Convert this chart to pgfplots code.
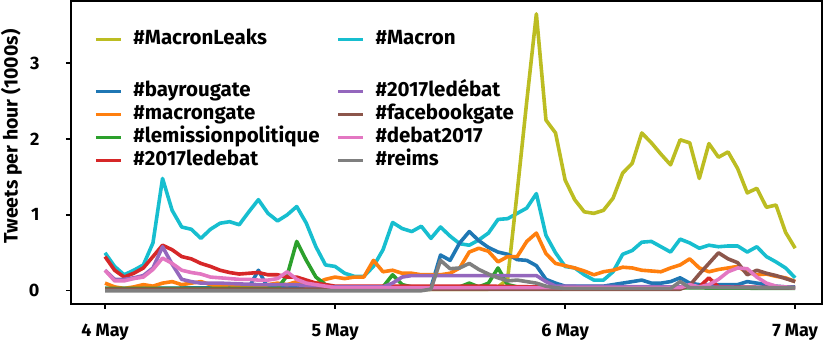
\documentclass[border=0pt]{standalone}
\usepackage{pgfplots}
\pgfplotsset{compat=1.18}
\usepackage{fontspec}
\setmainfont{Fira Sans}
\definecolor{tblue}{HTML}{1F77B4}
\definecolor{torange}{HTML}{FF7F0E}
\definecolor{tgreen}{HTML}{2CA02C}
\definecolor{tred}{HTML}{D62728}
\definecolor{tpurple}{HTML}{9467BD}
\definecolor{tbrown}{HTML}{8C564B}
\definecolor{tpink}{HTML}{E377C2}
\definecolor{tgray}{HTML}{7F7F7F}
\definecolor{tolive}{HTML}{BCBD22}
\definecolor{tcyan}{HTML}{17BECF}
\begin{document}
\begin{tikzpicture}
\begin{axis}[
  scale only axis, width=751pt, height=303pt,
  xmin=-3.55, xmax=74.8, ymin=-0.175, ymax=3.82,
  axis line style={line width=2pt},
  xtick={0,24,48,72}, xticklabels={4 May,5 May,6 May,7 May},
  ytick={0,1,2,3},
  tick align=outside, tick pos=left,
  major tick length=5pt, every tick/.style={black, line width=1.5pt},
  ticklabel style={font=\fontsize{18}{20}\selectfont\bfseries},
  xticklabel style={yshift=-11pt},
  yticklabel style={xshift=-23pt},
  /pgf/number format/assume math mode=true,
  ylabel={Tweets per hour (1000s)},
  ylabel style={font=\fontsize{19.5}{21}\selectfont\bfseries, yshift=0pt, xshift=16pt},
  legend columns=2,
  legend cell align=left,
  legend style={draw=none, fill=none, at={(0.027,0.918)}, anchor=north west,
    font=\fontsize{20.5}{22}\selectfont\bfseries, row sep=1pt,
    nodes={inner sep=2pt, text height=14pt, text depth=4pt},
    /tikz/every odd column/.append style={column sep=9pt},
    /tikz/every even column/.append style={column sep=15pt}},
  legend image code/.code={\draw[#1, line width=3pt] (0pt,0pt) -- (25pt,0pt);},
  every axis plot/.append style={line width=3.6pt, line join=round},
]
\addlegendimage{tolive}\addlegendentry{\#MacronLeaks}
\addlegendimage{tcyan}\addlegendentry{\#Macron}
\addlegendimage{empty legend}\addlegendentry[text height=12pt, text depth=12pt]{}
\addlegendimage{empty legend}\addlegendentry[text height=12pt, text depth=12pt]{}
\addlegendimage{tblue}\addlegendentry{\#bayrougate}
\addlegendimage{tpurple}\addlegendentry{\#2017ledébat}
\addlegendimage{torange}\addlegendentry{\#macrongate}
\addlegendimage{tbrown}\addlegendentry{\#facebookgate}
\addlegendimage{tgreen}\addlegendentry{\#lemissionpolitique}
\addlegendimage{tpink}\addlegendentry{\#debat2017}
\addlegendimage{tred}\addlegendentry{\#2017ledebat}
\addlegendimage{tgray}\addlegendentry{\#reims}

% #Macron
\addplot[tcyan, forget plot] coordinates {
(0,0.50) (1,0.32) (2,0.21) (3,0.27) (4,0.34) (5,0.63) (6,1.48) (7,1.06) (8,0.84)
(9,0.81) (10,0.69) (11,0.81) (12,0.89) (13,0.91) (14,0.87) (15,1.04) (16,1.20)
(17,1.02) (18,0.92) (19,1.00) (20,1.11) (21,0.89) (22,0.58) (23,0.34) (24,0.32)
(25,0.23) (26,0.19) (27,0.19) (28,0.32) (29,0.54) (30,0.90) (31,0.82) (32,0.78)
(33,0.85) (34,0.69) (35,0.84) (36,0.72) (37,0.62) (38,0.60) (39,0.67) (40,0.76)
(41,0.94) (42,0.95) (43,1.02) (44,1.09) (45,1.28) (46,0.73) (47,0.50) (48,0.32)
(49,0.30) (50,0.21) (51,0.14) (52,0.14) (53,0.25) (54,0.48) (55,0.53) (56,0.64)
(57,0.65) (58,0.58) (59,0.51) (60,0.68) (61,0.63) (62,0.56) (63,0.60) (64,0.58)
(65,0.59) (66,0.59) (67,0.51) (68,0.58) (69,0.45) (70,0.38) (71,0.30) (72,0.17)};
% #MacronLeaks
\addplot[tolive, forget plot] coordinates {
(0,0.02) (40,0.02) (41,0.05) (42,0.15) (43,1.30) (44,2.50) (45,3.65) (46,2.25)
(47,2.08) (48,1.46) (49,1.20) (50,1.04) (51,1.02) (52,1.06) (53,1.22) (54,1.55)
(55,1.68) (56,2.08) (57,1.95) (58,1.80) (59,1.66) (60,1.99) (61,1.95) (62,1.48)
(63,1.94) (64,1.76) (65,1.83) (66,1.61) (67,1.29) (68,1.35) (69,1.10) (70,1.13)
(71,0.77) (72,0.56)};
% #bayrougate
\addplot[tblue, forget plot] coordinates {
(0,0.03) (15,0.04) (16,0.27) (17,0.04) (33,0.03) (34,0.04) (35,0.47) (36,0.40)
(37,0.63) (38,0.78) (39,0.66) (40,0.57) (41,0.51) (42,0.48) (43,0.41) (44,0.40)
(45,0.33) (46,0.15) (47,0.10) (48,0.06) (52,0.06) (53,0.08) (54,0.10) (55,0.12)
(56,0.14) (57,0.10) (58,0.10) (59,0.12) (60,0.17) (61,0.10) (62,0.08) (66,0.08)
(67,0.12) (68,0.10) (69,0.08) (70,0.06) (71,0.05) (72,0.05)};
% #macrongate
\addplot[torange, forget plot] coordinates {
(0,0.10) (1,0.05) (2,0.03) (3,0.05) (4,0.08) (5,0.06) (6,0.10) (7,0.12) (8,0.08)
(9,0.10) (10,0.12) (11,0.08) (12,0.06) (13,0.08) (14,0.05) (15,0.07) (16,0.05)
(17,0.08) (18,0.10) (19,0.08) (20,0.12) (21,0.06) (22,0.10) (23,0.15) (24,0.18)
(25,0.16) (26,0.18) (27,0.18) (28,0.40) (29,0.25) (30,0.27) (31,0.23) (32,0.23)
(33,0.21) (34,0.21) (35,0.21) (36,0.23) (37,0.30) (38,0.51) (39,0.56) (40,0.52)
(41,0.38) (42,0.45) (43,0.45) (44,0.65) (45,0.76) (46,0.49) (47,0.36) (48,0.33)
(49,0.30) (50,0.26) (51,0.21) (52,0.25) (53,0.27) (54,0.31) (55,0.30) (56,0.27)
(57,0.26) (58,0.25) (59,0.30) (60,0.34) (61,0.42) (62,0.30) (63,0.25) (64,0.28)
(65,0.30) (66,0.32) (67,0.24) (68,0.21) (69,0.22) (70,0.19) (71,0.17) (72,0.12)};
% #lemissionpolitique
\addplot[tgreen, forget plot] coordinates {
(0,0.03) (18,0.03) (19,0.20) (20,0.65) (21,0.40) (22,0.18) (23,0.08) (24,0.05)
(29,0.05) (30,0.21) (31,0.08) (32,0.05) (37,0.05) (38,0.10) (39,0.05) (40,0.10)
(41,0.30) (42,0.08) (43,0.05) (72,0.03)};
% #2017ledebat
\addplot[tred, forget plot] coordinates {
(0,0.45) (1,0.27) (2,0.18) (3,0.23) (4,0.30) (5,0.45) (6,0.60) (7,0.54) (8,0.45)
(9,0.42) (10,0.36) (11,0.32) (12,0.27) (13,0.24) (14,0.22) (15,0.23) (16,0.24)
(17,0.21) (18,0.21) (19,0.18) (20,0.18) (21,0.14) (22,0.10) (23,0.08) (24,0.06)
(40,0.06) (45,0.05) (62,0.05) (63,0.17) (64,0.05) (72,0.04)};
% #2017ledébat
\addplot[tpurple, forget plot] coordinates {
(0,0.27) (1,0.15) (2,0.15) (3,0.17) (4,0.20) (5,0.30) (6,0.58) (7,0.35) (8,0.15)
(9,0.12) (10,0.10) (12,0.10) (16,0.08) (20,0.08) (22,0.05) (29,0.05) (30,0.10)
(31,0.18) (32,0.20) (45,0.20) (46,0.12) (47,0.06) (72,0.04)};
% #facebookgate
\addplot[tbrown, forget plot] coordinates {
(0,0.02) (60,0.02) (61,0.07) (62,0.22) (63,0.36) (64,0.50) (65,0.42) (66,0.37)
(67,0.21) (68,0.27) (69,0.23) (70,0.20) (71,0.16) (72,0.12)};
% #debat2017
\addplot[tpink, forget plot] coordinates {
(0,0.27) (1,0.13) (2,0.13) (3,0.16) (4,0.18) (5,0.28) (6,0.43) (7,0.36) (8,0.27)
(9,0.24) (10,0.22) (11,0.18) (12,0.17) (13,0.16) (14,0.15) (15,0.15) (16,0.14)
(17,0.14) (18,0.16) (19,0.25) (20,0.15) (21,0.10) (22,0.08) (23,0.06) (24,0.04)
(60,0.04) (61,0.08) (62,0.05) (63,0.08) (64,0.15) (65,0.25) (66,0.30) (67,0.29)
(68,0.18) (69,0.10) (70,0.06) (72,0.04)};
% #reims
\addplot[tgray, forget plot] coordinates {
(0,0) (33,0) (34,0.02) (35,0.40) (36,0.29) (37,0.30) (38,0.36) (39,0.28) (40,0.22)
(41,0.17) (42,0.13) (43,0.14) (44,0.12) (45,0.10) (46,0.06) (47,0.04) (48,0.03)
(59,0.03) (60,0.12) (61,0.04) (72,0.04)};
\end{axis}
\pgfresetboundingbox
\path[use as bounding box] (-71pt,-40pt) rectangle (760pt,304pt);
\end{tikzpicture}
\end{document}
